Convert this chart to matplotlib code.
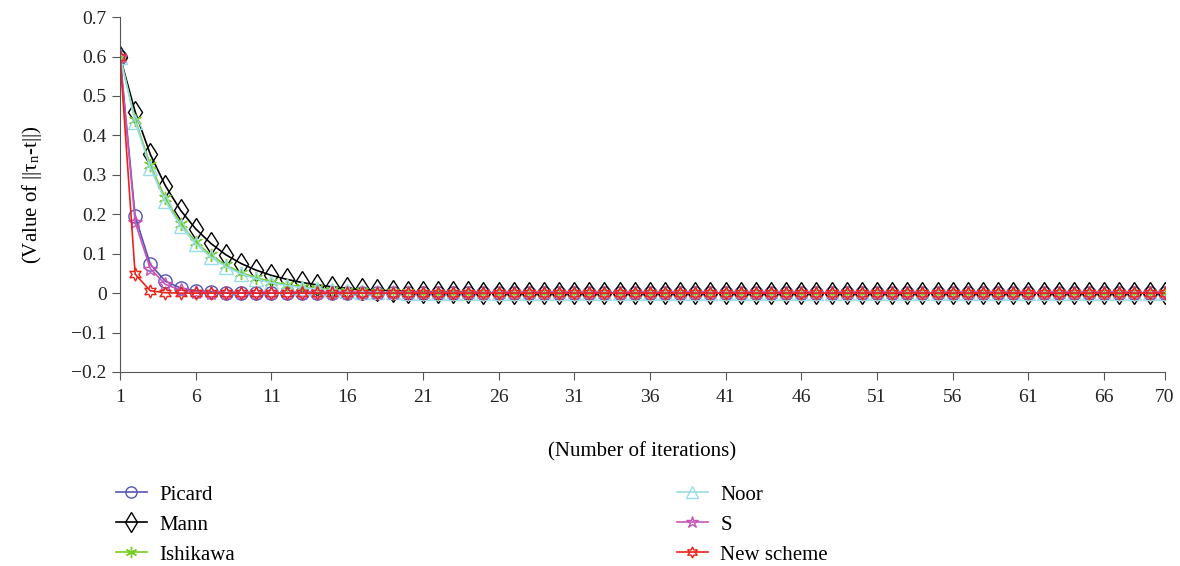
import numpy as np
import matplotlib.pyplot as plt

plt.rcParams['font.family'] = ['Liberation Serif', 'DejaVu Serif']
plt.rcParams['mathtext.fontset'] = 'stix'

iters = list(range(1, 71))
picard = [0.6, 0.195, 0.073, 0.030, 0.013, 0.006, 0.003, 0.001] + [0.0] * 62
mann = [0.6, 0.46, 0.352, 0.272, 0.210, 0.163, 0.126, 0.097, 0.075, 0.058,
        0.045, 0.035, 0.027, 0.021, 0.016, 0.012, 0.010, 0.007, 0.006, 0.004,
        0.003, 0.003, 0.002, 0.002, 0.001, 0.001] + [0.0] * 44
ishikawa = [0.6, 0.44, 0.325, 0.240, 0.176, 0.130, 0.096, 0.071, 0.052, 0.039,
            0.029, 0.021, 0.016, 0.012, 0.009, 0.006, 0.005, 0.003, 0.002, 0.002,
            0.001] + [0.0] * 49
noor = [0.6, 0.435, 0.318, 0.233, 0.170, 0.125, 0.091, 0.067, 0.049, 0.036,
        0.026, 0.019, 0.014, 0.010, 0.008, 0.006, 0.004, 0.003, 0.002, 0.001] + [0.0] * 50
s_iter = [0.6, 0.180, 0.062, 0.022, 0.008, 0.003, 0.001] + [0.0] * 63
new_scheme = [0.6, 0.048, 0.006, 0.001] + [0.0] * 66

xticks = [1, 6, 11, 16, 21, 26, 31, 36, 41, 46, 51, 56, 61, 66, 70]

fig = plt.figure(figsize=(11.8, 5.66), dpi=100)
ax = fig.add_axes([0.1017, 0.3428, 0.8853, 0.627])

ms = 9.5
ax.plot(iters, picard, '-', color='#5555b5', marker='o', mfc='none', ms=ms, lw=1.2, label='Picard')
ax.plot(iters, mann, '-', color='black', marker='d', mfc='none', ms=11.5, lw=1.2, label='Mann')
ax.plot(iters, ishikawa, '-', color='#77cc22', marker=(6, 2, 0), ms=ms, lw=1.2, label='Ishikawa')
ax.plot(iters, noor, '-', color='#99dde8', marker='^', mfc='none', ms=ms, lw=1.2, label='Noor')
ax.plot(iters, s_iter, '-', color='#c855b8', marker='*', mfc='none', ms=ms + 1, lw=1.2, label='S')
ax.plot(iters, new_scheme, '-', color='#e8231a', marker=(6, 1, 0), mfc='none', ms=ms, lw=1.2, label='New scheme')

ax.set_xlim(1, 70)
ax.set_ylim(-0.2, 0.7)
ax.set_xticks(xticks)
ax.set_yticks(np.arange(-0.2, 0.71, 0.1))
ax.set_yticklabels(['\u22120.2', '\u22120.1', '0', '0.1', '0.2', '0.3', '0.4', '0.5', '0.6', '0.7'])
ax.spines['top'].set_visible(False)
ax.spines['right'].set_visible(False)
ax.spines['left'].set_color('#555555')
ax.spines['bottom'].set_color('#555555')
ax.tick_params(labelsize=14, colors='#222222', length=6, color='#555555')
ax.tick_params(axis='x', pad=6)

ax.set_ylabel(r'(Value of ||τ$_\mathregular{n}$-t||)', fontsize=15, labelpad=20)
ax.set_xlabel('(Number of iterations)', fontsize=15, labelpad=26)

fig.legend(loc='upper left', bbox_to_anchor=(0.082, 0.176), ncol=2, frameon=False,
           fontsize=15, columnspacing=21.2, handlelength=1.5, handletextpad=0.6,
           labelspacing=0.5, markerscale=0.85)

fig.savefig('out.png', dpi=100)
